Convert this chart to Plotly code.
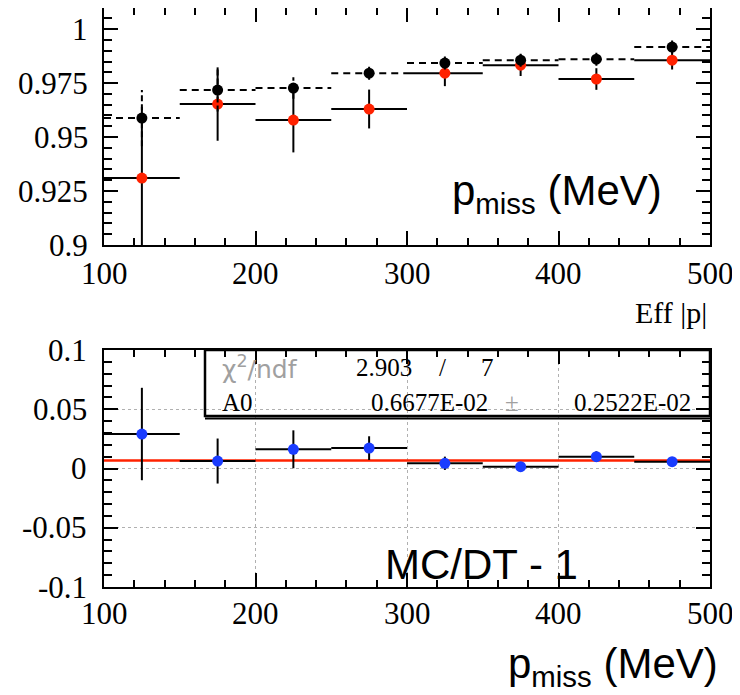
import plotly.graph_objects as go

W, H = 740, 695
OFF = 8  # page body margin of the html page
FW, FH = W - OFF, H - OFF

# ---------------- data ----------------
bin_lo = [100, 150, 200, 250, 300, 350, 400, 450]
bin_hi = [150, 200, 250, 300, 350, 400, 450, 500]
bin_center = [125, 175, 225, 275, 325, 375, 425, 475]

# top panel: efficiency vs |p|
eff_black = [0.9588, 0.9718, 0.9727, 0.9796, 0.9843, 0.9856, 0.9861, 0.9917]
eff_black_err = [0.013, 0.010, 0.005, 0.003, 0.003, 0.003, 0.003, 0.003]
eff_red = [0.931, 0.9653, 0.9579, 0.963, 0.9796, 0.9833, 0.9769, 0.9856]
eff_red_err = [0.033, 0.017, 0.015, 0.009, 0.006, 0.005, 0.005, 0.0043]

# bottom panel: MC/DT - 1
ratio = [0.0291, 0.0063, 0.0162, 0.0172, 0.0044, 0.0015, 0.0100, 0.0058]
ratio_err = [0.039, 0.019, 0.016, 0.010, 0.0056, 0.002, 0.0045, 0.002]
fit_A0 = 0.006677
fit_A0_err = 0.002522
chi2 = 2.903
ndf = 7

x_ticks = [100, 200, 300, 400, 500]
x_labels = ["100", "200", "300", "400", "500"]
top_y_ticks = [0.9, 0.925, 0.95, 0.975, 1.0]
top_y_labels = ["0.9", "0.925", "0.95", "0.975", "1"]
bot_y_ticks = [-0.1, -0.05, 0, 0.05, 0.1]
bot_y_labels = ["-0.1", "-0.05", "0", "0.05", "0.1"]

# ---------------- helpers (screen pixel -> paper fraction) ----------------
def px(x):
    return (x - OFF) / FW

def py(y):
    return 1 - (y - OFF) / FH

RED = "#ff2200"
BLUE = "#1a3cff"
SERIF = "Liberation Serif, Times New Roman, serif"
SANS = "Liberation Sans, Arial, sans-serif"

fig = go.Figure()

def seg_h(lo, hi, v):
    xs, ys = [], []
    for a, b, c in zip(lo, hi, v):
        xs += [a, b, None]
        ys += [c, c, None]
    return xs, ys

def seg_v(xc, v, e):
    xs, ys = [], []
    for a, c, d in zip(xc, v, e):
        xs += [a, a, None]
        ys += [c - d, c + d, None]
    return xs, ys

# red series (solid error bars) top panel
hx, hy = seg_h(bin_lo, bin_hi, eff_red)
fig.add_trace(go.Scatter(x=hx, y=hy, mode="lines", line=dict(color="black", width=2),
                         xaxis="x", yaxis="y", hoverinfo="skip", showlegend=False))
vx, vy = seg_v(bin_center, eff_red, eff_red_err)
fig.add_trace(go.Scatter(x=vx, y=vy, mode="lines", line=dict(color="black", width=2),
                         xaxis="x", yaxis="y", hoverinfo="skip", showlegend=False))
fig.add_trace(go.Scatter(x=bin_center, y=eff_red, mode="markers",
                         marker=dict(color=RED, size=11, line=dict(width=0)),
                         xaxis="x", yaxis="y", showlegend=False))

# black series (dashed error bars)
hx, hy = seg_h(bin_lo, bin_hi, eff_black)
fig.add_trace(go.Scatter(x=hx, y=hy, mode="lines", line=dict(color="black", width=2, dash="7px,5px"),
                         xaxis="x", yaxis="y", hoverinfo="skip", showlegend=False))
vx, vy = seg_v(bin_center, eff_black, eff_black_err)
fig.add_trace(go.Scatter(x=vx, y=vy, mode="lines", line=dict(color="black", width=2, dash="6px,3px"),
                         xaxis="x", yaxis="y", hoverinfo="skip", showlegend=False))
fig.add_trace(go.Scatter(x=bin_center, y=eff_black, mode="markers",
                         marker=dict(color="black", size=11, line=dict(width=0)),
                         xaxis="x", yaxis="y", showlegend=False))

# bottom panel
fig.add_trace(go.Scatter(x=[bin_lo[0], bin_hi[-1]], y=[fit_A0, fit_A0], mode="lines",
                         line=dict(color=RED, width=2.5),
                         xaxis="x2", yaxis="y2", hoverinfo="skip", showlegend=False))
hx, hy = seg_h(bin_lo, bin_hi, ratio)
fig.add_trace(go.Scatter(x=hx, y=hy, mode="lines", line=dict(color="black", width=2),
                         xaxis="x2", yaxis="y2", hoverinfo="skip", showlegend=False))
vx, vy = seg_v(bin_center, ratio, ratio_err)
fig.add_trace(go.Scatter(x=vx, y=vy, mode="lines", line=dict(color="black", width=2),
                         xaxis="x2", yaxis="y2", hoverinfo="skip", showlegend=False))
fig.add_trace(go.Scatter(x=bin_center, y=ratio, mode="markers",
                         marker=dict(color=BLUE, size=11, line=dict(width=0)),
                         xaxis="x2", yaxis="y2", showlegend=False))

# ---------------- axes ----------------
xdom = [px(104), px(710)]
top_dom = [py(245), py(8)]
bot_dom = [py(587), py(350)]

common_x = dict(
    range=[100, 500], domain=xdom, showline=True, linecolor="black", linewidth=2,
    mirror="allticks", ticks="inside", ticklen=14, tickwidth=1.5, tickcolor="black",
    tickvals=x_ticks, showticklabels=False,
    minor=dict(ticks="inside", dtick=20, ticklen=7, tickwidth=1.5, tickcolor="black", showgrid=False),
    zeroline=False, fixedrange=True, automargin=False,
)

fig.update_layout(
    template="none",
    font=dict(family=SERIF, color="black"),
    width=FW, height=FH,
    margin=dict(l=0, r=0, t=0, b=0, pad=0, autoexpand=False),
    paper_bgcolor="white", plot_bgcolor="white",
    showlegend=False,
    xaxis=dict(common_x, anchor="y", showgrid=False),
    yaxis=dict(
        range=[0.9, 1.0098], domain=top_dom, anchor="x", showline=True, linecolor="black", linewidth=2,
        mirror="allticks", ticks="inside", ticklen=14, tickwidth=1.5, tickcolor="black",
        tickvals=top_y_ticks, showticklabels=False,
        minor=dict(ticks="inside", dtick=0.005, tick0=0.9, ticklen=8, tickwidth=1.5, tickcolor="black", showgrid=False),
        showgrid=False, zeroline=False, fixedrange=True, automargin=False,
    ),
    xaxis2=dict(common_x, anchor="y2", showgrid=True, griddash="dot", gridcolor="#b0b0b0", gridwidth=1),
    yaxis2=dict(
        range=[-0.1, 0.1], domain=bot_dom, anchor="x2", showline=True, linecolor="black", linewidth=2,
        mirror="allticks", ticks="inside", ticklen=14, tickwidth=1.5, tickcolor="black",
        tickvals=bot_y_ticks, showticklabels=False,
        minor=dict(ticks="inside", dtick=0.01, tick0=-0.1, ticklen=8, tickwidth=1.5, tickcolor="black", showgrid=False),
        showgrid=True, griddash="dot", gridcolor="#b0b0b0", gridwidth=1,
        zeroline=False, fixedrange=True, automargin=False,
    ),
)

annotations = []

# tick labels (placed on the axes' own scales)
TICK_SIZE = 31
for v, lab in zip(x_ticks, x_labels):
    annotations.append(dict(text=lab, x=v, xref="x", y=py(273), yref="paper",
                            xanchor="center", yanchor="middle", showarrow=False,
                            font=dict(family=SERIF, size=TICK_SIZE, color="black")))
    annotations.append(dict(text=lab, x=v, xref="x2", y=py(613), yref="paper",
                            xanchor="center", yanchor="middle", showarrow=False,
                            font=dict(family=SERIF, size=TICK_SIZE, color="black")))
for v, lab in zip(top_y_ticks, top_y_labels):
    annotations.append(dict(text=lab, x=px(90), xref="paper", y=v, yref="y",
                            xanchor="right", yanchor="middle", showarrow=False,
                            font=dict(family=SERIF, size=TICK_SIZE, color="black")))
for v, lab in zip(bot_y_ticks, bot_y_labels):
    annotations.append(dict(text=lab, x=px(89), xref="paper", y=v, yref="y2",
                            xanchor="right", yanchor="middle", showarrow=False,
                            font=dict(family=SERIF, size=TICK_SIZE, color="black")))

# ---------------- stats box ----------------
fig.add_shape(type="rect", xref="paper", yref="paper",
              x0=px(205), x1=px(710), y0=py(416), y1=py(350),
              line=dict(color="black", width=2.5), fillcolor="rgba(0,0,0,0)")
fig.add_shape(type="line", xref="paper", yref="paper",
              x0=px(205), x1=px(710), y0=py(418.5), y1=py(418.5),
              line=dict(color="black", width=2))

def txt(text, x, y, size, family=SERIF, color="black", xanchor="left", yanchor="middle"):
    annotations.append(dict(text=text, x=px(x), y=py(y), xref="paper", yref="paper",
                            xanchor=xanchor, yanchor=yanchor, showarrow=False,
                            font=dict(family=family, size=size, color=color)))

txt("χ<sup>2</sup>/ndf", 220, 367, 25, family="DejaVu Sans, sans-serif", color="#a0a0a0")
txt(f"{chi2:.3f}", 354, 367, 25)
txt("/", 437, 367, 25)
txt(f"{ndf}", 479, 367, 25)
txt("A0", 220, 402, 25)
txt("0.6677E-02", 369, 402, 25)
txt("±", 503, 402, 25, color="#a0a0a0")
txt("0.2522E-02", 572, 402, 25)

# panel labels
txt("p<sub>miss</sub> (MeV)", 450, 194, 42, family=SANS)
txt("Eff |p|", 709, 312, 30, xanchor="right")
txt("MC/DT - 1", 383, 564, 42, family=SANS)
txt("p<sub>miss</sub> (MeV)", 506, 666, 42, family=SANS)

fig.update_layout(annotations=annotations)

fig.write_html("out.html")
